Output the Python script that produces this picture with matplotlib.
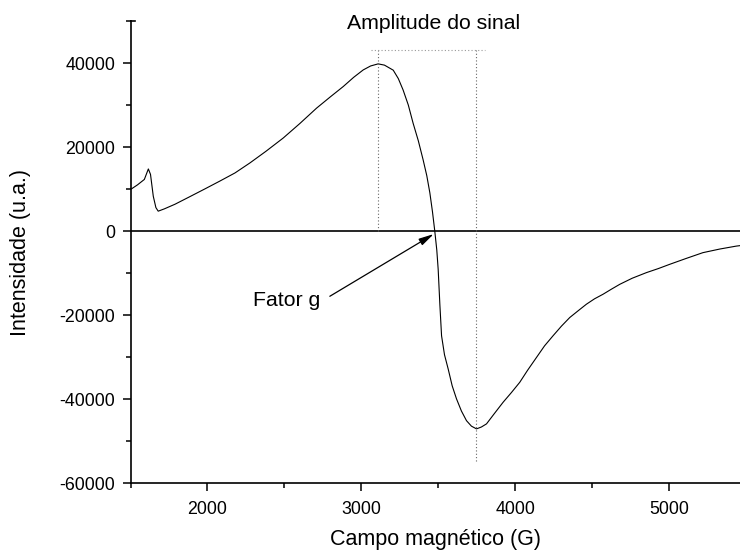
import matplotlib
matplotlib.use("Agg")
import matplotlib.pyplot as plt
from matplotlib.ticker import MultipleLocator

plt.rcParams['font.family'] = ['Liberation Sans', 'DejaVu Sans']
plt.rcParams['axes.unicode_minus'] = False

# EPR spectrum
campo = [1500, 1545, 1590, 1616, 1630, 1648, 1665, 1680, 1720, 1789, 1880,
         1984, 2080, 2179, 2276, 2380, 2492, 2600, 2709, 2800, 2882, 2950,
         3012, 3060, 3109, 3150, 3207, 3240, 3271, 3305, 3336, 3370, 3401,
         3425, 3445, 3462, 3477, 3490, 3499, 3510, 3521, 3540, 3564, 3590,
         3618, 3650, 3683, 3715, 3748, 3780, 3813, 3860, 3921, 3975, 4029,
         4080, 4138, 4190, 4245, 4300, 4354, 4410, 4462, 4515, 4570, 4625,
         4679, 4760, 4852, 4930, 5003, 5110, 5219, 5330, 5436, 5460]
intensidade = [9900, 11000, 12300, 14800, 13500, 8300, 5600, 4750, 5300,
               6400, 8100, 10060, 11900, 13850, 16230, 19000, 22150, 25600,
               29270, 32000, 34400, 36600, 38360, 39300, 39800, 39500, 38300,
               36300, 33600, 30000, 25700, 21500, 17000, 13200, 9100, 4600, 0,
               -4500, -9090, -17500, -24900, -29400, -32800, -36800, -39900,
               -42800, -45100, -46400, -47050, -46600, -45860, -43600, -40710,
               -38400, -35970, -33100, -30040, -27300, -24910, -22600, -20550,
               -18900, -17390, -16100, -15020, -13800, -12650, -11200, -9870,
               -8900, -7900, -6500, -5120, -4250, -3560, -3450]

# markers for the annotation
campo_pico = 3109
campo_vale = 3748
topo_amplitude = 43000
base_vale = -54600
campo_g = 3470

fig = plt.figure(figsize=(7.4, 5.51), dpi=100)
ax = fig.add_axes([130.5 / 740, 67.7 / 551, 1 - 130.5 / 740, 462.3 / 551])

ax.plot(campo, intensidade, color='k', lw=0.8)
ax.axhline(0, color='k', lw=1.2)

# dotted guides for the signal amplitude
ax.plot([campo_pico, campo_pico], [0, topo_amplitude], color='#666666',
        lw=0.8, linestyle=(0, (1, 2)))
ax.plot([campo_vale, campo_vale], [base_vale, topo_amplitude], color='#666666',
        lw=0.8, linestyle=(0, (1, 2)))
ax.plot([campo_pico - 45, campo_vale + 55], [topo_amplitude, topo_amplitude],
        color='#999999', lw=0.8, linestyle=(0, (1, 2)))

ax.text(3471, 49300, 'Amplitude do sinal', fontsize=15.3, ha='center',
        va='center', clip_on=False)
ax.text(2295, -16500, 'Fator g', fontsize=15.3, ha='left', va='center')
ax.annotate('', xy=(campo_g, -700), xytext=(2795, -15500),
            arrowprops=dict(arrowstyle='-|>,head_length=0.9,head_width=0.22',
                            color='k', lw=0.9, shrinkA=0, shrinkB=0))

ax.set_xlim(1500, 5460)
ax.set_ylim(-60000, 50000)
ax.xaxis.set_minor_locator(MultipleLocator(500))
ax.yaxis.set_minor_locator(MultipleLocator(10000))
ax.set_xticks([2000, 3000, 4000, 5000])
ax.set_yticks([-60000, -40000, -20000, 0, 20000, 40000])

for s in ['top', 'right']:
    ax.spines[s].set_visible(False)
for s in ['left', 'bottom']:
    ax.spines[s].set_linewidth(1.2)
ax.tick_params(which='major', length=6, width=1.1, labelsize=12.8, pad=5)
ax.tick_params(axis='x', which='major', pad=7)
ax.tick_params(which='minor', length=3.3, width=1.1)
# small cap at the top of the y axis
ax.plot([0, 0.008], [1, 1], transform=ax.transAxes, color='k', lw=1.2,
        clip_on=False)

ax.set_xlabel('Campo magnético (G)', fontsize=15.5)
ax.set_ylabel('Intensidade (u.a.)', fontsize=15.5)
ax.xaxis.set_label_coords(0.5, -0.098)
ax.yaxis.set_label_coords(-0.163, 0.5)

plt.savefig('out.png', dpi=100)
